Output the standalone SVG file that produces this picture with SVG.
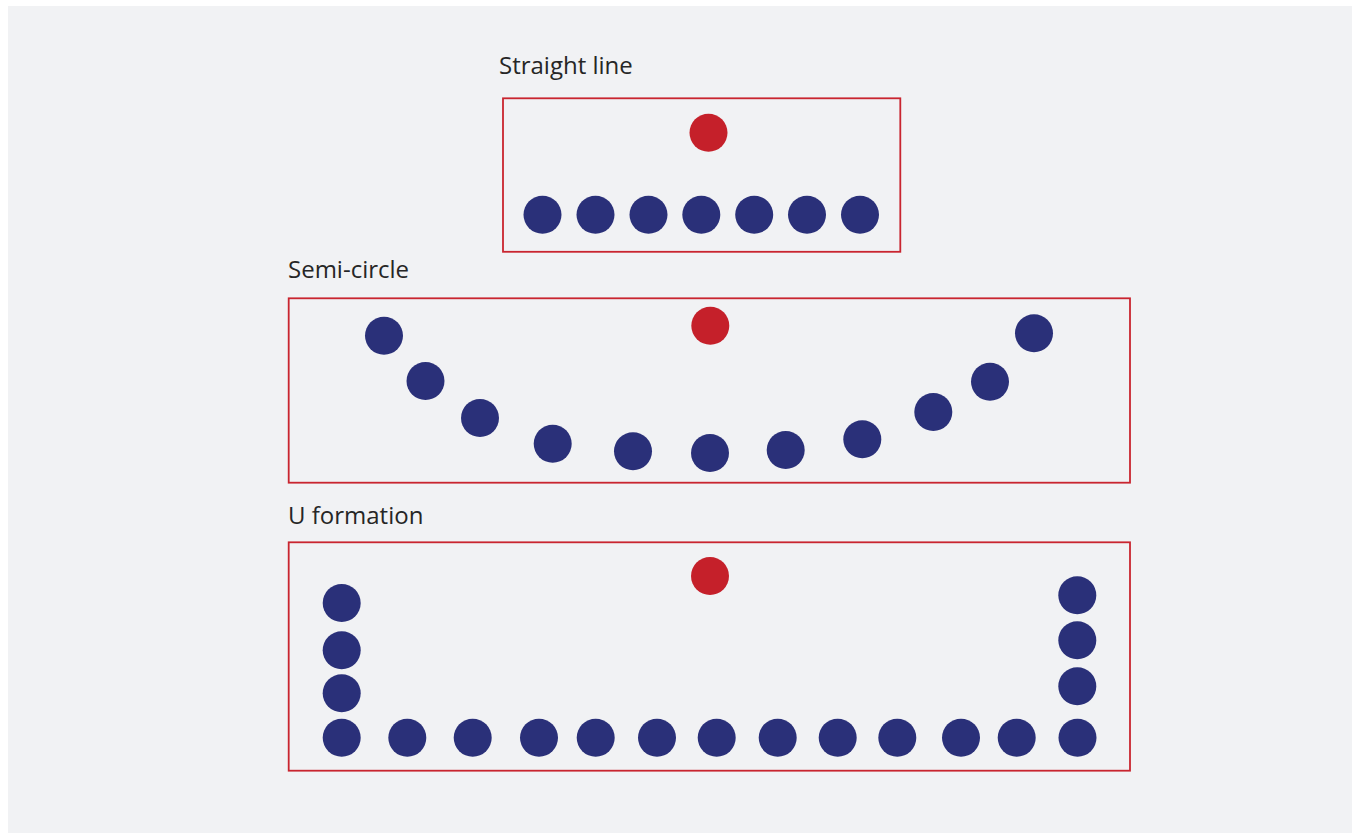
<svg xmlns="http://www.w3.org/2000/svg" width="1354" height="833" viewBox="0 0 1354 833">
  <style>
    .lbl { font-family: "Open Sans", "Liberation Sans", sans-serif; font-size: 24px; fill: #262626; }
    .box { fill: none; stroke: #c9252f; stroke-width: 1.8; }
    .s { fill: #2a3079; }
    .t { fill: #c5202a; }
  </style>
  <rect x="0" y="0" width="1354" height="833" fill="#ffffff"/>
  <rect x="8" y="6" width="1344" height="827" fill="#f1f2f4"/>

  <g id="straight-line">
    <text class="lbl" x="499" y="74">Straight line</text>
    <rect class="box" x="503" y="98.3" width="397.3" height="153.5"/>
    <circle class="t" cx="708.5" cy="132.7" r="19"/>
    <circle class="s" cx="542.5" cy="214.7" r="19"/>
    <circle class="s" cx="595.5" cy="214.7" r="19"/>
    <circle class="s" cx="648.5" cy="214.7" r="19"/>
    <circle class="s" cx="701.3" cy="214.7" r="19"/>
    <circle class="s" cx="754.2" cy="214.7" r="19"/>
    <circle class="s" cx="807" cy="214.7" r="19"/>
    <circle class="s" cx="860" cy="214.7" r="19"/>
  </g>

  <g id="semi-circle">
    <text class="lbl" x="288" y="278">Semi-circle</text>
    <rect class="box" x="288.7" y="298.3" width="841.3" height="184.4"/>
    <circle class="t" cx="710.3" cy="325.7" r="19"/>
    <circle class="s" cx="384" cy="335.7" r="19"/>
    <circle class="s" cx="425.5" cy="381" r="19"/>
    <circle class="s" cx="480" cy="418" r="19"/>
    <circle class="s" cx="552.7" cy="443.7" r="19"/>
    <circle class="s" cx="633" cy="451.3" r="19"/>
    <circle class="s" cx="710" cy="453" r="19"/>
    <circle class="s" cx="785.7" cy="450" r="19"/>
    <circle class="s" cx="862.3" cy="439.3" r="19"/>
    <circle class="s" cx="933.3" cy="412" r="19"/>
    <circle class="s" cx="990" cy="381.7" r="19"/>
    <circle class="s" cx="1034" cy="333.3" r="19"/>
  </g>

  <g id="u-formation">
    <text class="lbl" x="288" y="524">U formation</text>
    <rect class="box" x="288.7" y="542.3" width="841.3" height="228.4"/>
    <circle class="t" cx="710" cy="576" r="19"/>
    <circle class="s" cx="341.7" cy="603" r="19"/>
    <circle class="s" cx="341.7" cy="650.3" r="19"/>
    <circle class="s" cx="341.7" cy="693.3" r="19"/>
    <circle class="s" cx="341.7" cy="737.7" r="19"/>
    <circle class="s" cx="407.3" cy="737.7" r="19"/>
    <circle class="s" cx="472.7" cy="737.7" r="19"/>
    <circle class="s" cx="539" cy="737.7" r="19"/>
    <circle class="s" cx="595.7" cy="737.7" r="19"/>
    <circle class="s" cx="657" cy="737.7" r="19"/>
    <circle class="s" cx="716.7" cy="737.7" r="19"/>
    <circle class="s" cx="777.7" cy="737.7" r="19"/>
    <circle class="s" cx="837.7" cy="737.7" r="19"/>
    <circle class="s" cx="897.3" cy="737.7" r="19"/>
    <circle class="s" cx="961" cy="737.7" r="19"/>
    <circle class="s" cx="1016.7" cy="737.7" r="19"/>
    <circle class="s" cx="1077.5" cy="737.7" r="19"/>
    <circle class="s" cx="1077.3" cy="686.3" r="19"/>
    <circle class="s" cx="1077.3" cy="640.3" r="19"/>
    <circle class="s" cx="1077.3" cy="595.3" r="19"/>
  </g>

  <g id="connectors"></g>
</svg>
